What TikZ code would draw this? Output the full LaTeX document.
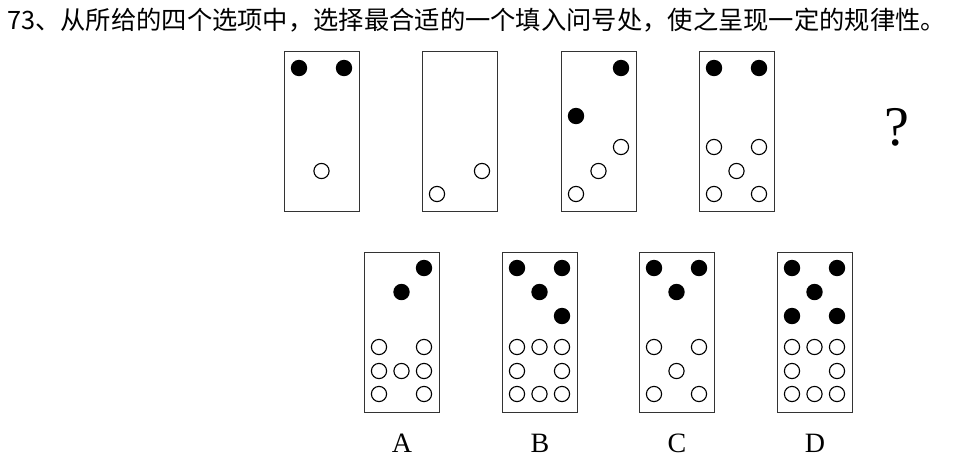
\documentclass[tikz,border=0pt]{standalone}
\usepackage{fontspec}
\setmainfont{Liberation Serif}
\newfontfamily\cjk{Noto Sans CJK SC}
\begin{document}
\begin{tikzpicture}[x=1pt,y=-1pt,
  card/.style={draw=black!80,line width=1.4pt},
  bd/.style={fill=black},
  wd/.style={draw=black,line width=1.1pt,fill=white}]
\useasboundingbox (0,0) rectangle (964,472);
\node[anchor=base west,inner sep=0,font=\cjk\fontsize{25.3}{25.3}\selectfont] (title) at (7,29) {73、从所给的四个选项中，选择最合适的一个填入问号处，使之呈现一定的规律性。};
\newcommand{\mycard}[4]{% name, x, y, dots
  \node[card,minimum width=75,minimum height=160,anchor=north west,inner sep=0] (#1) at (#2,#3) {};
  \begin{scope}[shift={(#2,#3)}] #4 \end{scope}}
\newcommand{\B}[2]{\fill[bd] (#1,#2) circle (8.2);}
\newcommand{\W}[2]{\draw[wd] (#1,#2) circle (7.6);}
% top row
\mycard{t1}{284}{51}{\B{15}{17}\B{60}{17}\W{37.5}{120}}
\mycard{t2}{422}{51}{\W{15}{143}\W{60}{120}}
\mycard{t3}{561}{51}{\B{60}{17}\B{15}{65}\W{60}{96}\W{37.5}{120}\W{15}{143}}
\mycard{t4}{699}{51}{\B{15}{17}\B{60}{17}\W{15}{96}\W{60}{96}\W{37.5}{120}\W{15}{143}\W{60}{143}}
\node[font=\fontsize{56}{56}\selectfont,inner sep=0] (q) at (897,127) {?};
% bottom row
\mycard{a}{364}{252}{\B{60}{16}\B{37.5}{40}\W{15}{95}\W{60}{95}\W{15}{119}\W{37.5}{119}\W{60}{119}\W{15}{142}\W{60}{142}}
\mycard{b}{502}{252}{\B{15}{16}\B{60}{16}\B{37.5}{40}\B{60}{64}\W{15}{95}\W{37.5}{95}\W{60}{95}\W{15}{119}\W{60}{119}\W{15}{142}\W{37.5}{142}\W{60}{142}}
\mycard{c}{639}{252}{\B{15}{16}\B{60}{16}\B{37.5}{40}\W{15}{95}\W{60}{95}\W{37.5}{119}\W{15}{142}\W{60}{142}}
\mycard{d}{777}{252}{\B{15}{16}\B{60}{16}\B{37.5}{40}\B{15}{64}\B{60}{64}\W{15}{95}\W{37.5}{95}\W{60}{95}\W{15}{119}\W{60}{119}\W{15}{142}\W{37.5}{142}\W{60}{142}}
\foreach \n/\t/\x in {a/A/402,b/B/540,c/C/677,d/D/815}
  \node[font=\fontsize{28}{28}\selectfont,inner sep=0] (l\n) at (\x,443) {\t};
\end{tikzpicture}
\end{document}
